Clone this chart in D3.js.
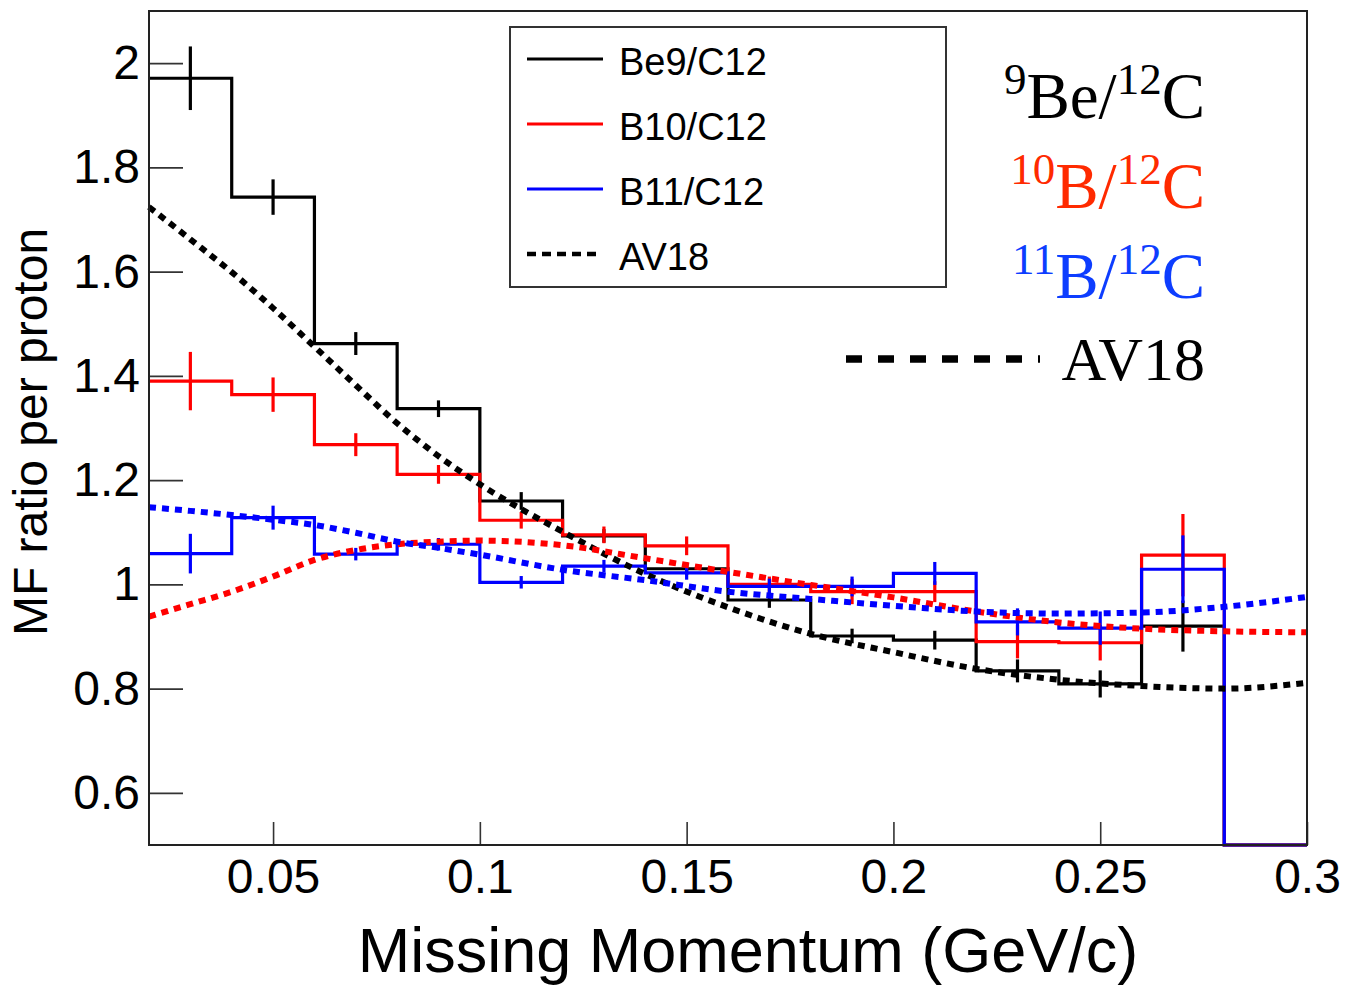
<!DOCTYPE html>
<html>
<head>
<meta charset="utf-8">
<script src="https://cdn.jsdelivr.net/npm/d3@7"></script>
<style>
  html, body { margin: 0; padding: 0; background: #fff; }
  svg { display: block; }
</style>
</head>
<body>
<svg id="chart" width="1345" height="988"></svg>
<script>
// Bin edges in missing momentum (GeV/c)
const binEdges = [0.02, 0.04, 0.06, 0.08, 0.10, 0.12, 0.14, 0.16, 0.18, 0.20, 0.22, 0.24, 0.26, 0.28, 0.30];

// Mean-field ratio per proton, one value per bin, with statistical errors
const be9Values  = [1.971, 1.743, 1.462, 1.337, 1.160, 1.093, 1.030, 0.970, 0.901, 0.893, 0.834, 0.809, 0.920, 0];
const be9Errors  = [0.061, 0.034, 0.022, 0.016, 0.017, 0.013, 0.012, 0.015, 0.014, 0.018, 0.022, 0.026, 0.049, 0];
const b10Values  = [1.390, 1.364, 1.268, 1.211, 1.123, 1.095, 1.074, 1.000, 0.986, 0.986, 0.890, 0.888, 1.056, 0];
const b10Errors  = [0.056, 0.033, 0.022, 0.018, 0.016, 0.016, 0.018, 0.015, 0.024, 0.020, 0.032, 0.034, 0.079, 0];
const b11Values  = [1.059, 1.128, 1.058, 1.077, 1.004, 1.035, 1.022, 0.996, 0.996, 1.021, 0.928, 0.916, 1.029, 0];
const b11Errors  = [0.038, 0.023, 0.012, 0.012, 0.012, 0.012, 0.013, 0.015, 0.019, 0.022, 0.026, 0.032, 0.065, 0];

// AV18 calculations
const av18Pmiss  = [0.02, 0.03, 0.04, 0.05, 0.06, 0.07, 0.08, 0.09, 0.10, 0.12, 0.14, 0.16, 0.18, 0.20, 0.22, 0.24, 0.26, 0.28, 0.30];
const av18Be9    = [1.724, 1.662, 1.599, 1.530, 1.456, 1.382, 1.309, 1.246, 1.192, 1.101, 1.020, 0.956, 0.905, 0.870, 0.838, 0.817, 0.805, 0.800, 0.811];
const av18B10    = [0.938, 0.962, 0.986, 1.015, 1.047, 1.066, 1.077, 1.082, 1.084, 1.075, 1.050, 1.024, 0.999, 0.975, 0.948, 0.927, 0.915, 0.910, 0.908];
const av18B11    = [1.148, 1.141, 1.133, 1.124, 1.114, 1.099, 1.082, 1.070, 1.057, 1.028, 1.008, 0.986, 0.972, 0.959, 0.948, 0.944, 0.946, 0.957, 0.976];

// Axis ticks
const xTicks = [0.05, 0.10, 0.15, 0.20, 0.25, 0.30];
const xTickLabels = ["0.05", "0.1", "0.15", "0.2", "0.25", "0.3"];
const yTicks = [0.6, 0.8, 1.0, 1.2, 1.4, 1.6, 1.8, 2.0];
const yTickLabels = ["0.6", "0.8", "1", "1.2", "1.4", "1.6", "1.8", "2"];

// Legend entries
const legendLabels = ["Be9/C12", "B10/C12", "B11/C12", "AV18"];

const svg = d3.select("#chart");
const frame = { left: 149, right: 1307, top: 11, bottom: 845 };

const x = d3.scaleLinear().domain([0.02, 0.30]).range([frame.left, frame.right]);
const y = d3.scaleLinear().domain([0.5, 2.1]).range([frame.bottom, frame.top]).clamp(true);

const sansFont = "'Liberation Sans', Arial, Helvetica, sans-serif";
const serifFont = "'Liberation Serif', 'Times New Roman', serif";

// Axes with inward ticks
const yAxis = d3.axisLeft(y)
  .tickValues(yTicks)
  .tickFormat((d, i) => yTickLabels[i])
  .tickSize(-34)
  .tickPadding(9);
const gy = svg.append("g").attr("transform", `translate(${frame.left},0)`).call(yAxis);
gy.select(".domain").remove();
gy.selectAll(".tick line").attr("stroke", "#333").attr("stroke-width", 1.6);
gy.selectAll(".tick text")
  .attr("font-family", sansFont).attr("font-size", 48).attr("fill", "#000");

const xAxis = d3.axisBottom(x)
  .tickValues(xTicks)
  .tickFormat((d, i) => xTickLabels[i])
  .tickSize(-23)
  .tickPadding(14);
const gx = svg.append("g").attr("transform", `translate(0,${frame.bottom})`).call(xAxis);
gx.select(".domain").remove();
gx.selectAll(".tick line").attr("stroke", "#333").attr("stroke-width", 1.6);
gx.selectAll(".tick text")
  .attr("font-family", sansFont).attr("font-size", 48).attr("fill", "#000");

// Axis titles
svg.append("text")
  .attr("x", (frame.left + frame.right) / 2 + 20)
  .attr("y", 972)
  .attr("text-anchor", "middle")
  .attr("font-family", sansFont)
  .attr("font-size", 63)
  .text("Missing Momentum (GeV/c)");

svg.append("text")
  .attr("transform", "translate(47,432) rotate(-90)")
  .attr("text-anchor", "middle")
  .attr("font-family", sansFont)
  .attr("font-size", 48)
  .text("MF ratio per proton");

// Histograms as step lines with vertical error bars at bin centres
const plot = svg.append("g");

function drawHistogram(values, errors, color) {
  const pts = values.map((v, i) => [binEdges[i], v]);
  pts.push([binEdges[binEdges.length - 1], values[values.length - 1]]);
  const step = d3.line()
    .x(d => x(d[0]))
    .y(d => y(d[1]))
    .curve(d3.curveStepAfter);
  plot.append("path")
    .attr("d", step(pts))
    .attr("fill", "none")
    .attr("stroke", color)
    .attr("stroke-width", 3.2);

  plot.append("g").selectAll("line")
    .data(values.map((v, i) => ({ v, e: errors[i], c: (binEdges[i] + binEdges[i + 1]) / 2 }))
      .filter(d => d.e > 0))
    .join("line")
    .attr("x1", d => x(d.c)).attr("x2", d => x(d.c))
    .attr("y1", d => y(d.v - d.e)).attr("y2", d => y(d.v + d.e))
    .attr("stroke", color)
    .attr("stroke-width", 3.2);
}

drawHistogram(be9Values, be9Errors, "#000000");
drawHistogram(b10Values, b10Errors, "#ff0000");
drawHistogram(b11Values, b11Errors, "#0000ff");

// AV18 dotted curves
function drawCurve(values, color) {
  const line = d3.line()
    .x((d, i) => x(av18Pmiss[i]))
    .y(d => y(d))
    .curve(d3.curveMonotoneX);
  plot.append("path")
    .attr("d", line(values))
    .attr("fill", "none")
    .attr("stroke", color)
    .attr("stroke-width", 6)
    .attr("stroke-dasharray", "7,6");
}

drawCurve(av18Be9, "#000000");
drawCurve(av18B10, "#ff0000");
drawCurve(av18B11, "#0000ff");

// Frame
svg.append("rect")
  .attr("x", frame.left).attr("y", frame.top)
  .attr("width", frame.right - frame.left)
  .attr("height", frame.bottom - frame.top)
  .attr("fill", "none")
  .attr("stroke", "#222")
  .attr("stroke-width", 2);

// Legend box
const legend = svg.append("g");
legend.append("rect")
  .attr("x", 510).attr("y", 27)
  .attr("width", 436).attr("height", 260)
  .attr("fill", "#fff")
  .attr("stroke", "#333")
  .attr("stroke-width", 2);

const legendColors = ["#000000", "#ff0000", "#0000ff", "#000000"];
legendLabels.forEach((label, i) => {
  const cy = 59 + i * 65;
  const isModel = i === 3;
  legend.append("line")
    .attr("x1", 527).attr("x2", isModel ? 598 : 603)
    .attr("y1", cy).attr("y2", cy)
    .attr("stroke", legendColors[i])
    .attr("stroke-width", isModel ? 4.5 : 3)
    .attr("stroke-dasharray", isModel ? "9,6" : null);
  legend.append("text")
    .attr("x", 619).attr("y", cy + 16)
    .attr("font-family", sansFont)
    .attr("font-size", 38)
    .attr("fill", "#000")
    .text(label);
});

// Nucleus ratio labels with mass-number superscripts
const nucleusLabels = [
  { parts: [["9", true], ["Be/", false], ["12", true], ["C", false]], color: "#000000", y: 118 },
  { parts: [["10", true], ["B/", false], ["12", true], ["C", false]], color: "#ff2a00", y: 208 },
  { parts: [["11", true], ["B/", false], ["12", true], ["C", false]], color: "#0d3dff", y: 298 }
];
nucleusLabels.forEach(lab => {
  const t = svg.append("text")
    .attr("x", 1205).attr("y", lab.y)
    .attr("text-anchor", "end")
    .attr("font-family", serifFont)
    .attr("font-size", 64)
    .attr("fill", lab.color);
  let raised = false;
  lab.parts.forEach(([s, sup]) => {
    const dy = sup && !raised ? -24 : (!sup && raised ? 24 : 0);
    raised = sup;
    t.append("tspan")
      .attr("dy", dy)
      .attr("font-size", sup ? 45 : 65)
      .text(s);
  });
});

svg.append("line")
  .attr("x1", 846).attr("x2", 1040)
  .attr("y1", 359).attr("y2", 359)
  .attr("stroke", "#000")
  .attr("stroke-width", 7.5)
  .attr("stroke-dasharray", "16,16");
svg.append("text")
  .attr("x", 1205).attr("y", 380)
  .attr("text-anchor", "end")
  .attr("font-family", serifFont)
  .attr("font-size", 62)
  .attr("fill", "#000")
  .text("AV18");
</script>
</body>
</html>
